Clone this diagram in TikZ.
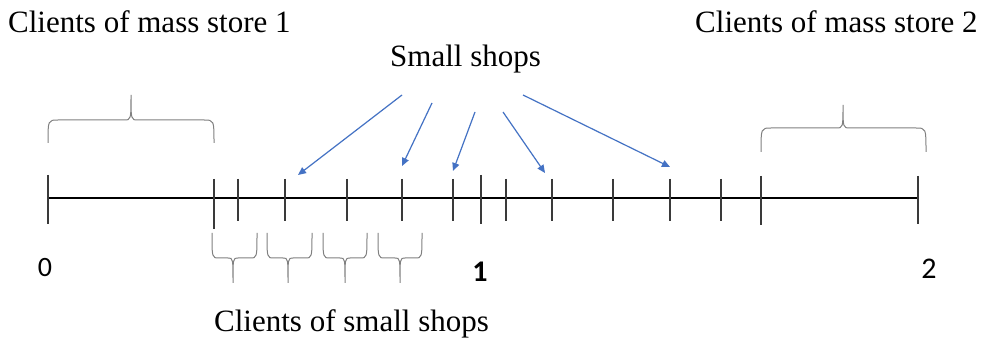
\documentclass[tikz,border=0pt]{standalone}
\usepackage{fontspec}
\setmainfont{Liberation Serif}
\newfontfamily\numfont{Carlito}
\usetikzlibrary{arrows.meta}
\definecolor{arrowblue}{HTML}{4472C4}
\definecolor{bracegray}{HTML}{808080}
\definecolor{tickgray}{HTML}{3A3A3A}
\tikzset{
  axisline/.style={line width=2.2pt, black},
  tickline/.style={line width=1.4pt, tickgray},
  bracepath/.style={line width=1pt, bracegray},
  shoparrow/.style={line width=1.2pt, arrowblue, -{Triangle[length=8pt,width=7pt]}},
  lbl/.style={font=\fontsize{31}{36}\selectfont, inner sep=0pt, anchor=base west},
  numlbl/.style={font=\numfont\fontsize{30}{32}\selectfont, inner sep=0pt}
}
\begin{document}
\begin{tikzpicture}[x=1pt,y=-1pt]
\useasboundingbox (0,0) rectangle (982,344);
\fill[white] (0,0) rectangle (982,344);

% texts
\node[lbl] (ms1) at (8,33) {Clients of mass store 1};
\node[lbl] (ms2) at (695,33) {Clients of mass store 2};
\node[lbl] (ss) at (390,67) {Small shops};
\node[lbl] (css) at (214,332) {Clients of small shops};
\node[numlbl, font=\numfont\fontsize{28}{30}\selectfont] (n0) at (45,267.5) {0};
\node[numlbl, font=\numfont\bfseries\fontsize{30}{32}\selectfont] (n1) at (480,272) {1};
\node[numlbl] (n2) at (929,269) {2};

% axis
\coordinate (axL) at (48,198);
\coordinate (axR) at (918,198);
\draw[axisline] (axL) -- (axR);

% ticks
\draw[tickline] (48,175) -- (48,224);
\draw[tickline] (214,179) -- (214,229);
\foreach \x in {238,285,347,402,453,506,552,613,670,721}
  \draw[tickline] (\x,179) -- (\x,221);
\draw[tickline] (481,175) -- (481,224);
\draw[tickline] (761,176) -- (761,225);
\draw[tickline] (918,176) -- (918,224);

% top braces
\draw[bracepath] (48,143) .. controls (48,120) .. (58,120) -- (124,120)
  .. controls (131,120) .. (131,95) .. controls (131,120) .. (138,120) -- (204,120)
  .. controls (214,120) .. (214,143);
\draw[bracepath] (761,152) .. controls (761,128) .. (771,128) -- (836,128)
  .. controls (843,128) .. (843,105) .. controls (843,128) .. (850,128) -- (916,128)
  .. controls (926,128) .. (926,152);

% bottom braces
\foreach \a/\t/\b in {212/233/257, 267/288/312, 323/345/367, 378/400/422}{
  \draw[bracepath] (\a,233) .. controls (\a,258) .. (\a+7,258) -- (\t-5,258)
    .. controls (\t,258) .. (\t,283) .. controls (\t,258) .. (\t+5,258) -- (\b-7,258)
    .. controls (\b,258) .. (\b,233);
}

% arrows
\coordinate (s1) at (402,95);  \coordinate (e1) at (298,175);
\coordinate (s2) at (432,103); \coordinate (e2) at (402,166);
\coordinate (s3) at (475,112); \coordinate (e3) at (453,171);
\coordinate (s4) at (503,112); \coordinate (e4) at (545,173);
\coordinate (s5) at (523,95);  \coordinate (e5) at (670,167);
\foreach \i in {1,...,5} \draw[shoparrow] (s\i) -- (e\i);
\end{tikzpicture}
\end{document}
